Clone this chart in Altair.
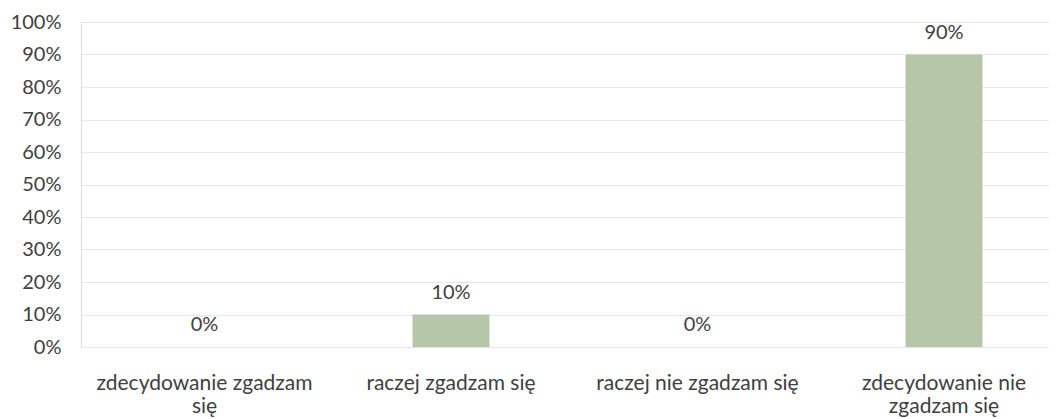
import altair as alt
import pandas as pd

categories = ["zdecydowanie zgadzam się", "raczej zgadzam się",
              "raczej nie zgadzam się", "zdecydowanie nie zgadzam się"]
values = [0.0, 0.10, 0.0, 0.90]
label_lines = {
    "zdecydowanie zgadzam się": ["zdecydowanie zgadzam", "się"],
    "zdecydowanie nie zgadzam się": ["zdecydowanie nie", "zgadzam się"],
}
y_ticks = [i / 10 for i in range(11)]

df = pd.DataFrame({"kategoria": categories, "wartosc": values})

FONT = "Lato"
TXT = "#404040"

expr = "datum.label"
for k, v in label_lines.items():
    expr = f"datum.label == '{k}' ? {v!r} : (" + expr + ")"

x = alt.X("kategoria:N", sort=categories, title=None,
          scale=alt.Scale(paddingInner=0.688, paddingOuter=0.3075, align=0.561),
          axis=alt.Axis(labelExpr=expr, labelAngle=0, domain=False, ticks=False,
                        labelPadding=25, labelFontSize=21, labelFont=FONT,
                        labelColor=TXT, labelLineHeight=23, labelLimit=300))
y = alt.Y("wartosc:Q", title=None,
          scale=alt.Scale(domain=[0, 1], nice=False),
          axis=alt.Axis(values=y_ticks, format=".0%", domain=False, ticks=False,
                        labelPadding=20, labelFontSize=20, labelFont=FONT,
                        labelColor=TXT, gridColor="#e6e6e6", gridWidth=1))

bars = alt.Chart(df).mark_bar(color="#b6c6a8").encode(x=x, y=y)
labels = alt.Chart(df).mark_text(baseline="bottom", dy=-12, fontSize=20,
                                 font=FONT, color=TXT).encode(
    x=x, y=y, text=alt.Text("wartosc:Q", format=".0%"))

chart = (bars + labels).properties(
    width=968, height=325,
    autosize=alt.AutoSizeParams(type="none"),
    padding={"left": 73, "top": 14, "right": 0, "bottom": 70},
).configure_view(stroke=None).configure(background="white")

chart.save("out.html", embed_options={"renderer": "svg", "actions": False})
